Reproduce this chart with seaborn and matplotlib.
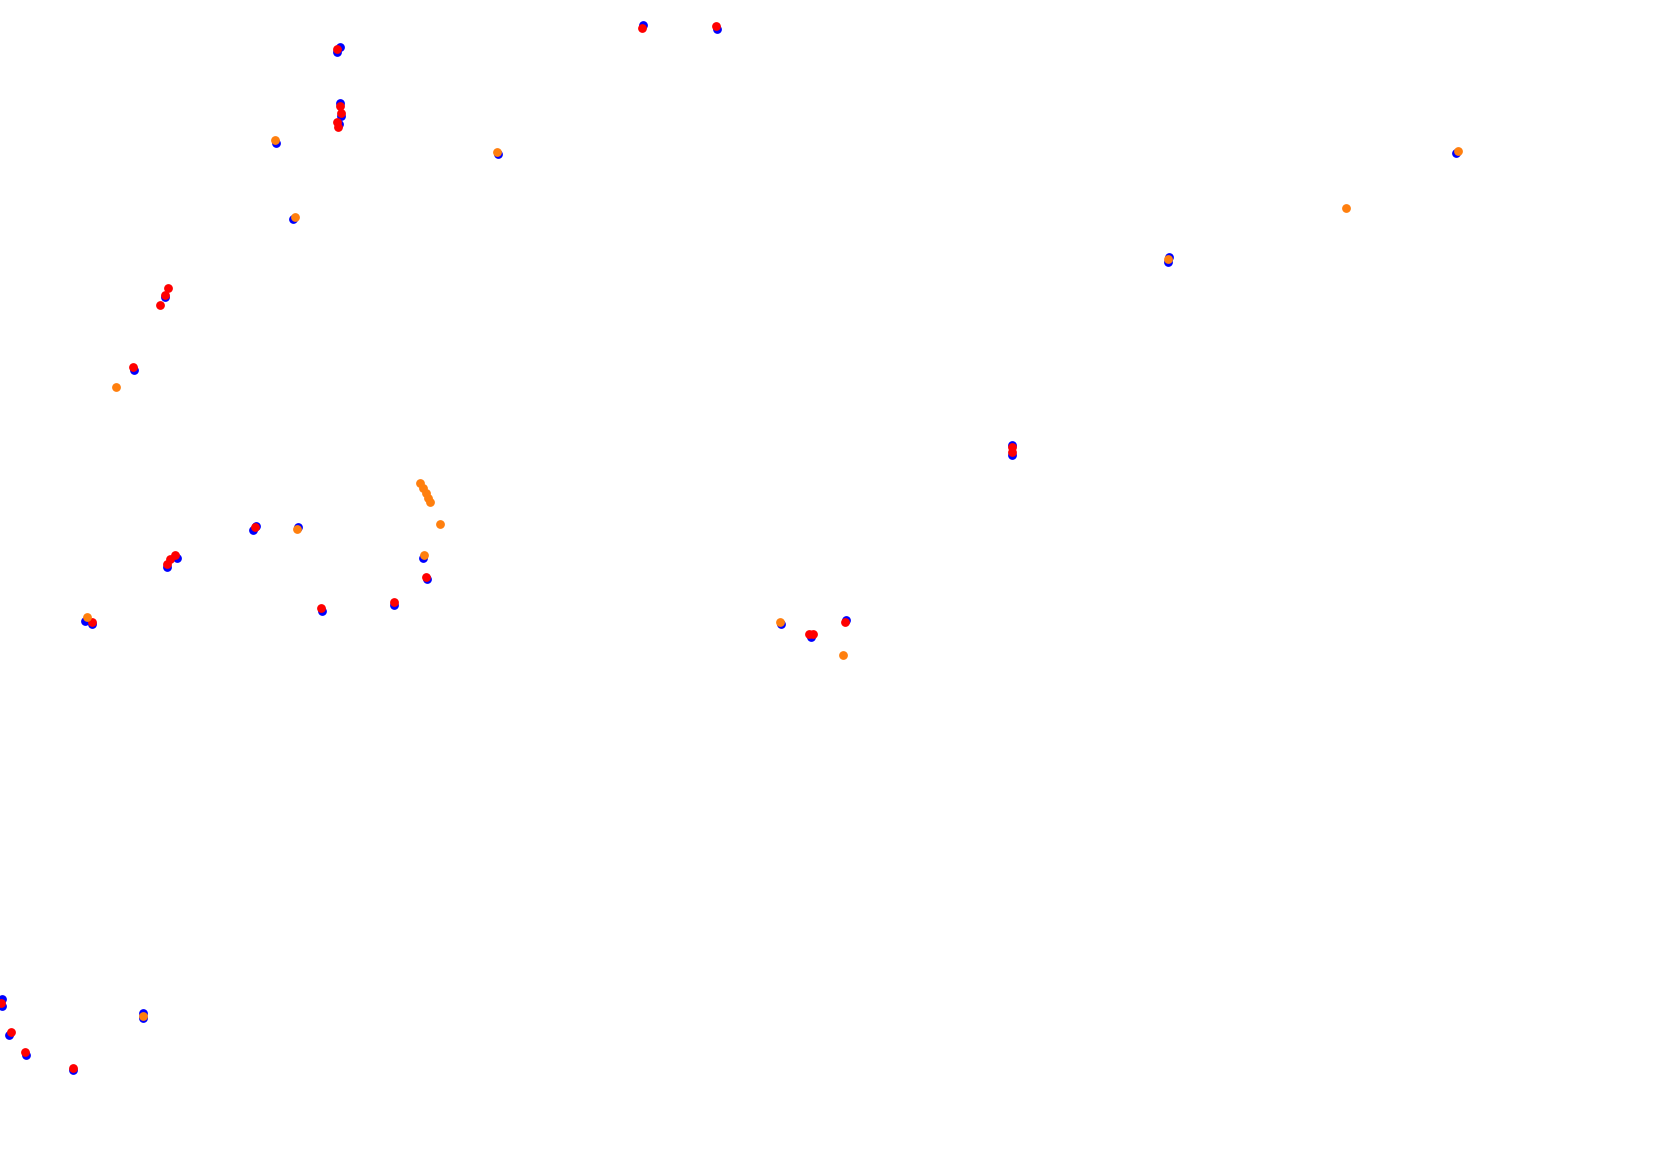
import matplotlib
matplotlib.use("Agg")
import matplotlib.pyplot as plt
import seaborn as sns

# positions (image units, y grows downward)
blue_x = [337, 340, 643, 717, 340, 341, 339, 276, 498, 293, 165, 134, 256, 253, 298,
          167, 177, 423, 427, 394, 322, 85, 92, 781, 811, 846, 2, 2, 9, 26, 73,
          143, 143, 1456, 1169, 1168, 1012, 1012]
blue_y = [52, 47, 25, 29, 103, 116, 124, 143, 154, 219, 297, 370, 526, 530, 527,
          567, 558, 558, 579, 605, 611, 621, 624, 624, 637, 620, 999, 1006, 1035, 1055, 1070,
          1013, 1018, 153, 257, 262, 445, 455]

red_x = [337, 642, 716, 340, 341, 337, 338, 168, 165, 160, 133, 255, 167, 170, 175,
         426, 394, 321, 92, 809, 813, 845, 1, 11, 25, 73, 1012, 1012]
red_y = [49, 28, 26, 106, 113, 122, 127, 288, 295, 305, 367, 527, 564, 559, 555,
         577, 602, 608, 622, 634, 634, 622, 1003, 1032, 1052, 1068, 447, 452]

orange_x = [275, 497, 295, 116, 420, 423, 426, 428, 430, 440, 297, 424, 87, 780,
            843, 143, 1458, 1346, 1168]
orange_y = [140, 152, 217, 387, 483, 488, 493, 498, 502, 524, 529, 555, 617, 622,
            655, 1016, 151, 208, 259]

sns.set_style("white")
fig = plt.figure(figsize=(16.8, 11.52), dpi=100)
ax = fig.add_axes([0, 0, 1, 1])

sns.scatterplot(x=blue_x, y=blue_y, color="#0000ff", s=40, linewidth=0, ax=ax)
sns.scatterplot(x=red_x, y=red_y, color="#ff0000", s=40, linewidth=0, ax=ax)
sns.scatterplot(x=orange_x, y=orange_y, color="#ff7f0e", s=40, linewidth=0, ax=ax)

ax.set_xlim(0, 1680)
ax.set_ylim(1152, 0)
ax.axis("off")

fig.savefig("out.png", dpi=100, facecolor="white")
